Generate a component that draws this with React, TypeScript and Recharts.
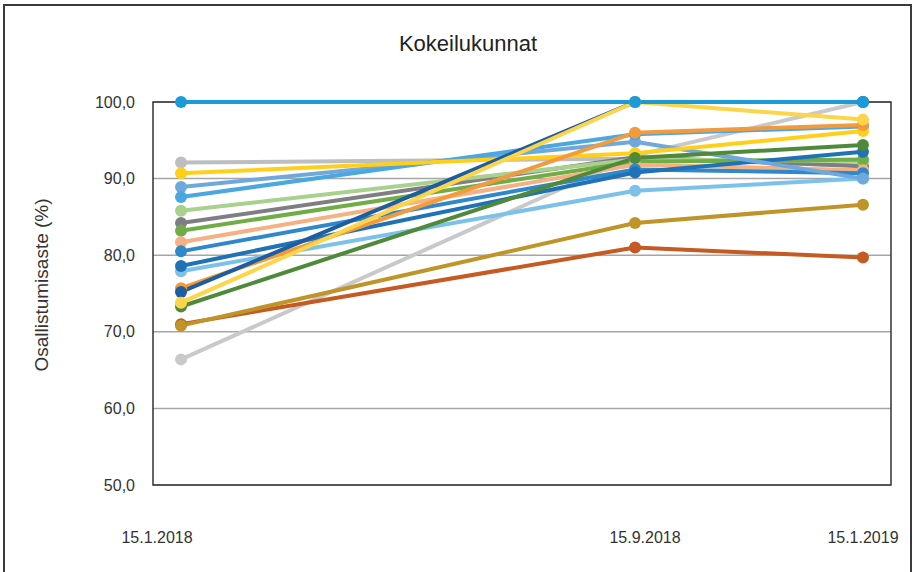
import { CartesianGrid, Line, LineChart, ReferenceArea, XAxis, YAxis } from "recharts";

// measurement dates and their day offsets from 15.1.2018 (date axis is proportional)
const DATES = ["15.1.2018", "15.9.2018", "15.1.2019"];
const DAYS = [0, 243, 365];
const Y_TICKS = [50, 60, 70, 80, 90, 100];

// participation rate (%) per municipality at each date
const k1 = [100, 100, 100];
const k2 = [92.1, 92.6, 91.7];
const k3 = [90.7, 93.3, 96.2];
const k4 = [88.9, 94.8, 90.0];
const k5 = [87.6, 95.8, 96.8];
const k6 = [85.8, 92.5, 92.3];
const k7 = [84.2, 92.8, 91.6];
const k8 = [83.2, 92.2, 92.5];
const k9 = [81.7, 91.8, 91.1];
const k10 = [80.5, 91.2, 90.7];
const k11 = [78.6, 90.8, 93.5];
const k12 = [77.9, 88.4, 90.0];
const k13 = [75.7, 96.0, 97.0];
const k14 = [75.2, 100, 100];
const k15 = [73.8, 100, 97.7];
const k16 = [73.3, 92.7, 94.4];
const k17 = [71.0, 81.0, 79.7];
const k18 = [70.8, 84.2, 86.6];
const k19 = [66.4, 93.0, 100];

// drawn in this order, last one on top
const SERIES = [k19, k2, k7, k6, k8, k9, k12, k10, k11, k4, k5, k3, k13, k16, k17, k18, k14, k15, k1];
const COLORS = [
  "#c8c9cb", "#bdbec0", "#7f7f83", "#a9d18e", "#70ad47", "#f4b183", "#7cc1ea", "#2f88cc",
  "#1f72b6", "#6fa8dc", "#4aa7df", "#ffcf1a", "#f39a3c", "#4f8a3a", "#c55a22", "#bf9428",
  "#1e5d9f", "#fdd54a", "#1a9ad6",
];

const data = DAYS.map((d, i) => {
  const row: Record<string, number> = { day: d };
  SERIES.forEach((s, j) => {
    row["s" + j] = s[i];
  });
  return row;
});

const FONT = "'Liberation Sans', Arial, sans-serif";
const TEXT = "#333333";
const TICK_SHIFT = [-24, 10, 0];

const XTick = ({ x, y, payload, index }: any) => (
  <text x={x + (TICK_SHIFT[index] ?? 0)} y={y} dy="0.71em" textAnchor="middle" fill={TEXT} fontSize={16} fontFamily={FONT}>
    {DATES[DAYS.indexOf(payload.value)]}
  </text>
);

const YTitle = () => (
  <text
    x={41}
    y={285}
    transform="rotate(-90 41 285)"
    textAnchor="middle"
    dominantBaseline="central"
    fill={TEXT}
    fontSize={19}
    fontFamily={FONT}
  >
    Osallistumisaste (%)
  </text>
);

export default function App() {
  return (
    <div style={{ position: "fixed", inset: 0, overflow: "hidden", background: "#fff" }}>
      <div
        style={{
          position: "absolute",
          left: 3,
          top: 4,
          width: 905,
          height: 620,
          border: "2px solid #3a3a3a",
        }}
      />
      <div
        style={{
          position: "absolute",
          left: 0,
          top: 31,
          width: 936,
          textAlign: "center",
          fontFamily: FONT,
          fontSize: 22,
          color: "#222",
        }}
      >
        Kokeilukunnat
      </div>
      <div style={{ position: "absolute", left: 0, top: 0 }}>
        <LineChart width={914} height={572} data={data} margin={{ top: 102, right: 23, left: 33, bottom: 7 }}>
          <CartesianGrid horizontal vertical={false} stroke="#a6a6a6" strokeWidth={1.5} />
          <ReferenceArea x1={-15} x2={380} y1={50} y2={100} fill="none" stroke="#333" strokeWidth={1.5} />
          <XAxis
            dataKey="day"
            type="number"
            domain={[-15, 380]}
            ticks={DAYS}
            tick={<XTick />}
            axisLine={false}
            tickLine={false}
            tickSize={0}
            tickMargin={47}
            height={80}
            allowDataOverflow
          />
          <YAxis
            domain={[50, 100]}
            ticks={Y_TICKS}
            tickFormatter={(v: number) => v.toFixed(1).replace(".", ",")}
            tick={{ fill: TEXT, fontSize: 16, fontFamily: FONT }}
            axisLine={false}
            tickLine={false}
            tickSize={0}
            tickMargin={18}
            width={120}
            label={{ content: () => <YTitle /> }}
          />
          {SERIES.map((_, j) => (
            <Line
              key={j}
              type="linear"
              dataKey={"s" + j}
              stroke={COLORS[j]}
              strokeWidth={4}
              dot={{ r: 6, fill: COLORS[j], stroke: "none" }}
              activeDot={false}
              isAnimationActive={false}
            />
          ))}
        </LineChart>
      </div>
    </div>
  );
}
